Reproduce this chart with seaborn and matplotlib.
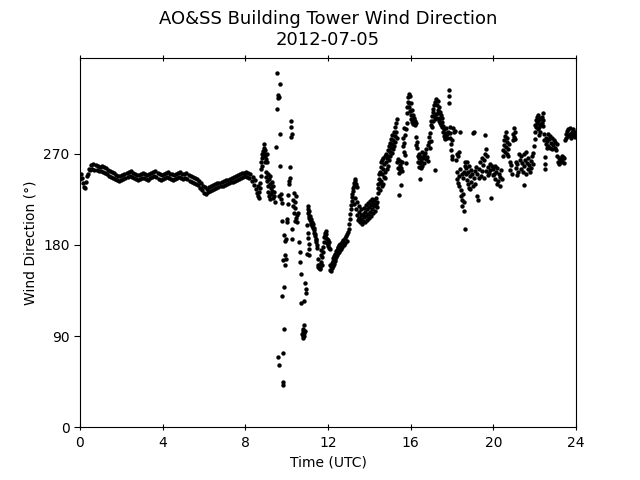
import numpy as np
import pandas as pd
import matplotlib
matplotlib.use("Agg")
import matplotlib.pyplot as plt
import seaborn as sns

# ---- Data ----
# Calm period 0 - 8.6 UTC (every 0.05 h)
calm_dir = [
    245, 250, 246, 241, 237, 236, 242, 248, 250, 255, 254, 259, 255, 260, 254, 259, 254, 258, 253, 257,
    253, 258, 252, 257, 251, 256, 250, 254, 248, 253, 247, 252, 246, 251, 245, 249, 244, 248, 243, 248,
    244, 249, 245, 250, 246, 251, 247, 252, 248, 253, 247, 251, 246, 250, 245, 249, 244, 249, 245, 250,
    246, 251, 246, 250, 245, 249, 244, 250, 246, 251, 247, 252, 248, 253, 247, 251, 245, 250, 244, 249,
    245, 250, 246, 251, 247, 252, 246, 250, 245, 250, 244, 249, 245, 250, 246, 251, 247, 252, 246, 250,
    245, 250, 246, 251, 245, 249, 243, 248, 242, 247, 241, 246, 240, 245, 239, 243, 236, 241, 234, 238,
    231, 237, 230, 235, 232, 237, 233, 238, 234, 239, 235, 240, 236, 241, 237, 241, 238, 242, 238, 243,
    239, 244, 240, 244, 241, 245, 242, 246, 242, 247, 243, 248, 244, 249, 245, 250, 246, 251, 247, 251,
    248, 252, 247, 251, 246, 250, 243, 247, 239, 244, 235, 231, 228,
]
calm_hours = [round(i * 0.05, 2) for i in range(len(calm_dir))]

# Frontal passage 8.6 - 11.1 UTC
front_hours = [
    8.62, 8.65, 8.68, 8.70, 8.72, 8.75, 8.77, 8.78, 8.80, 8.82, 8.83, 8.85, 8.87, 8.88, 8.90, 8.92,
    8.93, 8.95, 8.97, 8.98, 9.00, 9.02, 9.03, 9.05, 9.07, 9.08, 9.10, 9.12, 9.13, 9.15, 9.17, 9.18,
    9.20, 9.22, 9.25, 9.27, 9.30, 9.32, 9.35, 9.38, 9.40, 9.42,
    9.48, 9.52, 9.55, 9.57, 9.58, 9.60, 9.62, 9.63, 9.65, 9.68, 9.69, 9.70, 9.72, 9.73, 9.75, 9.76,
    9.78, 9.80, 9.82, 9.83, 9.84, 9.86, 9.87, 9.88, 9.90, 9.92, 9.94, 9.96, 9.98,
    10.00, 10.03, 10.06, 10.07, 10.10, 10.12, 10.15, 10.18, 10.20, 10.21, 10.22, 10.24, 10.25, 10.26,
    10.30, 10.32, 10.34, 10.36, 10.38, 10.40, 10.42, 10.44, 10.46, 10.48, 10.52, 10.55,
    10.62, 10.64, 10.66, 10.68, 10.70, 10.75, 10.77, 10.78, 10.80, 10.81, 10.82, 10.84, 10.85, 10.86,
    10.88, 10.90, 10.92, 10.95, 11.00, 10.98,
]
front_dir = [
    238, 232, 226, 241, 236, 248, 255, 262, 266, 270, 258, 273, 268, 276, 280, 271,
    262, 274, 268, 252, 265, 247, 270, 243, 262, 238, 250, 232, 245, 228, 240, 225,
    248, 236, 230, 242, 233, 226, 238, 228, 232, 222,
    277, 314, 350, 328, 325, 69, 61, 326, 228, 339, 290, 258, 230, 225, 221, 204,
    130, 165, 42, 45, 73, 138, 190, 97, 170, 184, 160, 186, 166,
    206, 203, 220, 229, 243, 240, 257, 246, 287, 296, 302, 290, 196, 186,
    224, 218, 231, 212, 204, 222, 216, 207, 228, 210, 203, 212,
    183, 173, 163, 151, 123, 92, 88, 95, 90, 97, 93, 101, 90, 125,
    95, 142, 136, 133, 171, 200,
]

# Recovery 11.0 - 14.5 UTC
recovery_hours = [
    11.02, 11.03, 11.05, 11.07, 11.08, 11.10, 11.12, 11.14, 11.16, 11.18, 11.20, 11.22, 11.24, 11.26,
    11.28, 11.30, 11.32, 11.34, 11.36, 11.38, 11.40, 11.42, 11.44, 11.46, 11.48,
    11.02, 11.04, 11.06, 11.08, 11.10,
    11.50, 11.52, 11.53, 11.55, 11.57, 11.58, 11.60, 11.62, 11.63, 11.65, 11.67, 11.68, 11.70, 11.72,
    11.75, 11.78, 11.80, 11.82, 11.84, 11.86, 11.88, 11.90, 11.92, 11.94, 11.96, 11.98, 12.00, 12.02,
    12.04, 12.06, 12.08,
    12.10, 12.12, 12.14, 12.16, 12.18, 12.20, 12.22, 12.24, 12.26, 12.28, 12.30, 12.32, 12.34, 12.36,
    12.38, 12.40, 12.42, 12.44, 12.46, 12.48, 12.50, 12.52, 12.55, 12.58, 12.60, 12.63, 12.66, 12.70,
    12.73, 12.76, 12.80, 12.83, 12.86, 12.90, 12.93, 12.96, 13.00, 13.03, 13.05, 13.08, 13.10, 13.12,
    13.14, 13.16, 13.18, 13.20, 13.22, 13.25, 13.27, 13.30, 13.33, 13.36, 13.38,
    13.25, 13.30, 13.35, 13.40, 13.42, 13.45, 13.48, 13.50, 13.52, 13.55, 13.58, 13.60, 13.62, 13.65,
    13.68, 13.70, 13.72, 13.75, 13.78, 13.80, 13.82, 13.85, 13.88, 13.90, 13.92, 13.95, 13.98, 14.00,
    14.02, 14.05, 14.08, 14.10, 14.12, 14.15, 14.18, 14.20, 14.22, 14.25, 14.28, 14.30, 14.33, 14.35,
    14.38, 14.40, 14.42, 14.44, 14.46, 14.48,
]
recovery_dir = [
    218, 215, 212, 214, 209, 207, 209, 205, 203, 206, 201, 203, 199, 201,
    197, 195, 197, 192, 189, 191, 186, 183, 185, 180, 177,
    192, 187, 181, 176, 170,
    166, 160, 158, 157, 160, 158, 156, 159, 157, 163, 170, 175, 160, 168,
    173, 178, 183, 188, 192, 190, 194, 187, 191, 186, 182, 185, 179, 181,
    177, 183, 176,
    160, 155, 159, 154, 162, 157, 164, 159, 167, 161, 169, 164, 171, 166,
    174, 168, 175, 170, 177, 172, 178, 173, 180, 175, 181, 176, 183, 178,
    185, 180, 187, 182, 189, 184, 191, 193, 196, 201, 206, 211, 215, 219,
    223, 227, 230, 233, 236, 238, 241, 243, 245, 240, 237,
    220, 226, 215, 222, 210, 205, 213, 207, 218, 203, 210, 215, 206, 201,
    211, 204, 216, 208, 203, 213, 219, 209, 205, 215, 221, 211, 207, 217,
    223, 213, 209, 219, 225, 215, 221, 212, 218, 224, 214, 220, 226, 217,
    222, 231, 236, 240, 245, 250,
]

# Afternoon / evening 14.5 - 24 UTC
evening_hours = [
    14.50, 14.52, 14.54, 14.55, 14.57, 14.58, 14.60, 14.62, 14.63, 14.65, 14.67, 14.68, 14.70, 14.72,
    14.74, 14.76, 14.78, 14.80, 14.82, 14.84, 14.86, 14.88, 14.90, 14.92, 14.94, 14.96, 14.98, 15.00,
    15.02, 15.04, 15.06, 15.08, 15.10, 15.12, 15.14, 15.16, 15.18, 15.20, 15.22, 15.24, 15.26, 15.28,
    15.30, 15.32, 15.34, 15.36, 15.38, 15.40, 15.42, 15.44, 15.46, 15.48, 15.50, 15.52, 15.55, 15.58,
    15.60, 15.62, 15.64, 15.66, 15.68, 15.70, 15.72, 15.74, 15.76, 15.78, 15.80, 15.82, 15.84, 15.86,
    15.88, 15.90, 15.92, 15.94, 15.96, 15.98, 16.00, 16.02, 16.04, 16.06, 16.08, 16.10, 16.12, 16.14,
    16.16, 16.18, 16.20, 16.22, 16.24, 16.26, 16.28, 16.30, 16.32, 16.34, 16.36, 16.38, 16.40, 16.42,
    16.44, 16.46, 16.48, 16.50, 16.52, 16.54, 16.56, 16.60, 16.63, 16.66, 16.70, 16.73, 16.76, 16.79,
    16.82, 16.85, 16.88, 16.90, 16.92, 16.94, 16.96, 16.98, 17.00, 17.02, 17.04, 17.06, 17.08, 17.10,
    17.12, 17.14, 17.16, 17.18, 17.20, 17.22, 17.24, 17.26, 17.28, 17.30, 17.32, 17.34, 17.36, 17.38,
    17.40, 17.42, 17.44, 17.46, 17.48, 17.50, 17.52, 17.54, 17.56, 17.58, 17.60, 17.62, 17.64, 17.66,
    17.68, 17.70, 17.72, 17.75, 17.78, 17.82, 17.85, 17.86, 17.87, 17.88, 17.90, 17.92, 17.94, 17.96,
    17.98, 18.00, 18.02, 18.05, 18.10, 18.15, 18.20, 18.22, 18.24, 18.26, 18.28, 18.30, 18.32, 18.34,
    18.36, 18.38, 18.40, 18.42, 18.44, 18.46, 18.48, 18.50, 18.52, 18.54, 18.56, 18.58, 18.60, 18.62,
    18.63, 18.65, 18.68, 18.70, 18.72, 18.74, 18.76, 18.78, 18.80, 18.82, 18.85, 18.88, 18.90, 18.93,
    18.96, 19.00, 19.03, 19.05, 19.08, 19.10, 19.13, 19.16, 19.20, 19.23, 19.26, 19.30, 19.33, 19.36,
    19.40, 19.43, 19.46, 19.50, 19.53, 19.56, 19.58, 19.60, 19.63, 19.66, 19.70, 19.73, 19.76, 19.80,
    19.83, 19.86, 19.90, 19.93, 19.96, 20.00, 20.03, 20.06, 20.10, 20.13, 20.16, 20.20, 20.23, 20.26,
    20.30, 20.33, 20.36, 20.40, 20.45, 20.48, 20.50, 20.53, 20.56, 20.58, 20.60, 20.62, 20.64, 20.66,
    20.68, 20.70, 20.73, 20.76, 20.80, 20.83, 20.86, 20.90, 20.93, 20.96, 21.00, 21.02, 21.04, 21.06,
    21.08, 21.10, 21.13, 21.16, 21.20, 21.25, 21.30, 21.33, 21.36, 21.40, 21.43, 21.46, 21.48, 21.50,
    21.53, 21.56, 21.60, 21.63, 21.66, 21.70, 21.73, 21.76, 21.80, 21.83, 21.86, 21.90, 21.93, 21.96,
    22.00, 22.02, 22.04, 22.06, 22.08, 22.10, 22.12, 22.14, 22.16, 22.18, 22.20, 22.22, 22.24, 22.26,
    22.28, 22.30, 22.32, 22.34, 22.36, 22.38, 22.40, 22.42, 22.44, 22.46, 22.48, 22.50, 22.52, 22.54,
    22.56, 22.58, 22.60, 22.63, 22.66, 22.70, 22.73, 22.76, 22.80, 22.83, 22.86, 22.90, 22.93, 22.96,
    23.00, 23.03, 23.06, 23.10, 23.13, 23.16, 23.20, 23.23, 23.26, 23.30, 23.33, 23.36, 23.40, 23.43,
    23.46, 23.50, 23.53, 23.56, 23.60, 23.63, 23.66, 23.70, 23.73, 23.76, 23.80, 23.83, 23.86, 23.90,
    23.93, 23.96, 23.99,
]
evening_dir = [
    241, 252, 234, 257, 243, 262, 238, 250, 264, 240, 255, 266, 247, 260,
    252, 268, 246, 262, 270, 255, 266, 274, 258, 268, 278, 264, 272, 281,
    268, 276, 285, 271, 280, 289, 275, 284, 292, 278, 288, 296, 282, 292,
    300, 304, 286, 262, 256, 265, 251, 229, 259, 254, 263, 256, 239, 253,
    262, 278, 286, 272, 295, 281, 269, 289, 261, 294, 300, 310, 316, 321,
    326, 329, 320, 316, 327, 312, 320, 308, 304, 313, 301, 308, 299, 305,
    301, 303, 298, 302, 300, 287, 279, 282, 276, 268, 262, 257, 266, 270,
    245, 261, 256, 267, 263, 272, 258, 266, 269, 261, 271, 265, 275, 267,
    279, 263, 282, 287, 276, 291, 283, 298, 302, 307, 296, 311, 302, 314,
    307, 318, 304, 254, 321, 309, 324, 305, 318, 310, 322, 313, 302, 316,
    305, 311, 300, 308, 298, 305, 296, 301, 292, 297, 288, 294, 286, 291,
    285, 289, 295, 290, 286, 292, 333, 327, 320, 296, 291, 286, 280, 274,
    268, 284, 265, 295, 292, 293, 264, 270, 252, 245, 241, 268, 248, 238,
    272, 292, 255, 234, 228, 250, 224, 218, 246, 230, 222, 252, 214, 258,
    196, 262, 250, 256, 244, 262, 240, 252, 236, 258, 248, 235, 254, 242,
    250, 238, 291, 246, 292, 253, 240, 257, 228, 250, 224, 246, 255, 262,
    248, 266, 253, 259, 246, 264, 289, 270, 275, 253, 268, 249, 257, 251,
    260, 254, 226, 258, 249, 255, 250, 258, 245, 252, 240, 256, 243, 250,
    238, 247, 254, 245, 268, 274, 279, 284, 288, 272, 292, 277, 282, 270,
    286, 275, 268, 280, 262, 254, 259, 250, 284, 290, 295, 287, 292, 285,
    262, 256, 249, 260, 252, 270, 264, 255, 268, 261, 252, 239, 270, 258,
    264, 250, 272, 261, 255, 266, 259, 252, 263, 256, 268, 260, 271, 278,
    285, 292, 298, 303, 296, 306, 300, 308, 294, 302, 296, 289, 304, 298,
    292, 305, 299, 306, 300, 310, 303, 297, 290, 284, 260, 255, 267, 280,
    286, 276, 283, 290, 278, 285, 276, 288, 281, 275, 286, 279, 284, 276,
    282, 274, 280, 268, 262, 266, 260, 265, 262, 268, 263, 267, 261, 266,
    284, 290, 286, 293, 288, 294, 289, 295, 290, 286, 292, 288, 294, 290,
    287, 292, 289,
]

x_ticks = [0, 4, 8, 12, 16, 20, 24]
y_ticks = [0, 90, 180, 270]

df = pd.DataFrame({
    "hours": calm_hours + front_hours + recovery_hours + evening_hours,
    "direction": calm_dir + front_dir + recovery_dir + evening_dir,
})

fig, ax = plt.subplots(figsize=(6.4, 4.8), dpi=100)
sns.scatterplot(data=df, x="hours", y="direction", color="black", s=10,
                linewidth=0, ax=ax, legend=False)

ax.set_xlim(0, 24)
ax.set_ylim(0, 365)
ax.set_xticks(x_ticks)
ax.set_yticks(y_ticks)
ax.set_xlabel("Time (UTC)")
ax.set_ylabel("Wind Direction (°)")
ax.set_title("AO&SS Building Tower Wind Direction\n2012-07-05", fontsize=13, pad=9)
ax.tick_params(axis="x", direction="inout", length=5, top=True, bottom=True)
ax.tick_params(axis="y", direction="out", length=4, left=True, right=False)

fig.savefig("out.png", dpi=100)
